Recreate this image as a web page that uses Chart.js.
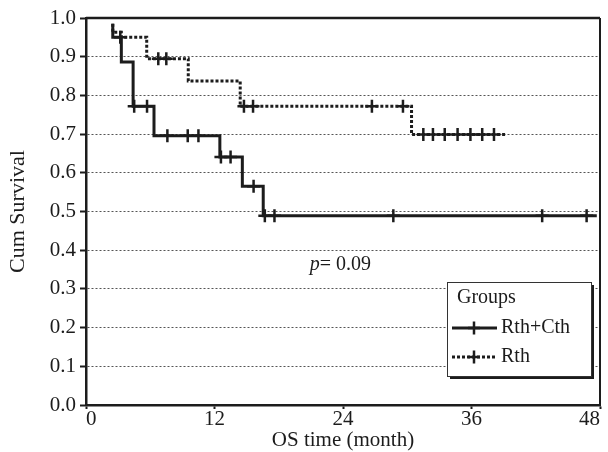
<!DOCTYPE html>
<html lang="en">
<head>
<meta charset="UTF-8">
<title>Cum Survival by group</title>
<script src="https://cdn.jsdelivr.net/npm/chart.js"></script>
<style>
  body { margin: 0; background: #fff; }
  #wrap { position: relative; width: 608px; height: 452px; }
</style>
</head>
<body>
<div id="wrap"><canvas id="km" width="608" height="452"></canvas></div>
<script>
// Rth+Cth: times (month), survival after each point, censored mark (1) or step (0)
const combTimes = [2.5, 2.5, 3.2, 3.3, 4.4, 4.5, 5.7, 6.35, 7.6, 9.5, 10.5, 12.5, 12.6, 13.5, 14.6, 15.65, 16.55, 16.7, 17.6, 28.7, 42.6, 46.75, 47.7];
const combSurv  = [0.985, 0.95, 0.95, 0.886, 0.772, 0.772, 0.772, 0.696, 0.696, 0.696, 0.696, 0.641, 0.641, 0.641, 0.565, 0.565, 0.489, 0.489, 0.489, 0.489, 0.489, 0.489, 0.489];
const combCens  = [0, 0, 1, 0, 0, 1, 1, 0, 1, 1, 1, 0, 1, 1, 0, 1, 0, 1, 1, 1, 1, 1, 0];

// Rth
const rthTimes = [2.5, 2.5, 3.3, 5.67, 6.75, 7.5, 9.55, 14.4, 14.75, 15.6, 26.7, 29.6, 30.4, 31.5, 32.4, 33.5, 34.7, 35.9, 37.0, 38.1, 39.3];
const rthSurv  = [0.985, 0.963, 0.95, 0.895, 0.895, 0.895, 0.837, 0.772, 0.772, 0.772, 0.772, 0.772, 0.699, 0.699, 0.699, 0.699, 0.699, 0.699, 0.699, 0.699, 0.699];
const rthCens  = [0, 0, 0, 0, 1, 1, 0, 0, 1, 1, 1, 1, 0, 1, 1, 1, 1, 1, 1, 1, 0];

const groupNames = ['Rth+Cth', 'Rth'];
const xTicks = [0, 12, 24, 36, 48];
const pText = { x: 20.9, y: 0.362, label: '= 0.09' };

const FONT = "'Liberation Serif', 'Times New Roman', serif";
const INK = '#1c1c1c';

function toPoints(t, s) {
  return t.map((v, i) => ({ x: v, y: s[i] }));
}

// frame, p value and boxed legend
const extras = {
  id: 'extras',
  afterDatasetsDraw(chart) {
    const ctx = chart.ctx;
    const a = chart.chartArea;
    const xs = chart.scales.x, ys = chart.scales.y;
    ctx.save();
    ctx.strokeStyle = INK;
    ctx.lineWidth = 2.5;
    ctx.beginPath();
    ctx.moveTo(a.left, a.top);
    ctx.lineTo(a.right, a.top);
    ctx.stroke();
    ctx.lineWidth = 2;
    ctx.beginPath();
    ctx.moveTo(a.right, a.top);
    ctx.lineTo(a.right, a.bottom);
    ctx.stroke();

    // p value
    const px = xs.getPixelForValue(pText.x), py = ys.getPixelForValue(pText.y);
    ctx.fillStyle = INK;
    ctx.textBaseline = 'middle';
    ctx.textAlign = 'left';
    ctx.font = 'italic 20px ' + FONT;
    ctx.fillText('p', px, py);
    const w = ctx.measureText('p').width;
    ctx.font = '20px ' + FONT;
    ctx.fillText(pText.label, px + w, py);
    ctx.restore();
  },
  afterDraw(chart) {
    const ctx = chart.ctx;
    const a = chart.chartArea;
    const bx = a.right - 153, by = 282, bw = 144, bh = 94;
    ctx.save();
    ctx.fillStyle = INK;
    ctx.fillRect(bx + 3, by + 3, bw, bh);
    ctx.fillStyle = '#fff';
    ctx.fillRect(bx, by, bw, bh);
    ctx.strokeStyle = '#333';
    ctx.lineWidth = 1;
    ctx.strokeRect(bx + 0.5, by + 0.5, bw, bh);

    ctx.fillStyle = INK;
    ctx.font = '20px ' + FONT;
    ctx.textBaseline = 'middle';
    ctx.fillText('Groups', bx + 10, by + 16);

    const rows = [by + 46, by + 75];
    groupNames.forEach((name, i) => {
      const y = rows[i];
      ctx.strokeStyle = INK;
      ctx.lineWidth = 3;
      ctx.setLineDash(i === 1 ? [3, 2] : []);
      ctx.beginPath();
      ctx.moveTo(bx + 5, y);
      ctx.lineTo(bx + 50, y);
      ctx.stroke();
      ctx.setLineDash([]);
      ctx.lineWidth = 2.5;
      ctx.beginPath();
      ctx.moveTo(bx + 27, y - 6.5);
      ctx.lineTo(bx + 27, y + 6.5);
      ctx.moveTo(bx + 21, y);
      ctx.lineTo(bx + 33, y);
      ctx.stroke();
      ctx.fillText(name, bx + 54, y);
    });
    ctx.restore();
  }
};

const ctx = document.getElementById('km').getContext('2d');
new Chart(ctx, {
  type: 'line',
  data: {
    datasets: [
      {
        label: groupNames[0],
        data: toPoints(combTimes, combSurv),
        borderColor: INK,
        borderWidth: 3,
        stepped: 'before',
        pointStyle: 'cross',
        pointRadius: combCens.map(c => c ? 6.5 : 0),
        pointBorderWidth: 2.5,
        pointBorderColor: INK,
        fill: false
      },
      {
        label: groupNames[1],
        data: toPoints(rthTimes, rthSurv),
        borderColor: INK,
        borderWidth: 3,
        borderDash: [3, 2],
        stepped: 'before',
        pointStyle: 'cross',
        pointRadius: rthCens.map(c => c ? 6.5 : 0),
        pointBorderWidth: 2.5,
        pointBorderColor: INK,
        fill: false
      }
    ]
  },
  options: {
    responsive: false,
    animation: false,
    events: [],
    layout: { padding: { top: 18, right: 8, left: 0, bottom: 0 } },
    plugins: { legend: { display: false }, tooltip: { enabled: false } },
    scales: {
      x: {
        type: 'linear',
        min: 0,
        max: 48,
        afterBuildTicks: s => { s.ticks = xTicks.map(v => ({ value: v })); },
        afterFit: s => { s.height = 47; s.paddingLeft = 0; s.paddingRight = 0; },
        grid: { drawOnChartArea: false, drawTicks: true, tickLength: 4, tickWidth: 2, tickColor: INK },
        border: { display: true, color: INK, width: 2.5 },
        ticks: { align: 'inner', autoSkip: false, maxRotation: 0, padding: -2, color: INK, font: { family: FONT, size: 21 } },
        title: { display: true, text: 'OS time (month)', color: INK, padding: { top: 0, bottom: -1 }, font: { family: FONT, size: 21 } }
      },
      y: {
        min: 0,
        max: 1,
        afterFit: s => { s.width = 86; },
        grid: { color: '#555', lineWidth: 1, tickLength: 6, tickWidth: 2, tickColor: INK },
        border: { display: true, color: INK, width: 2.5, dash: [2, 2] },
        ticks: { stepSize: 0.1, autoSkip: false, padding: 4, color: INK, font: { family: FONT, size: 21 }, callback: v => v.toFixed(1) },
        title: { display: true, text: 'Cum Survival', color: INK, padding: { top: 5, bottom: 0 }, font: { family: FONT, size: 22 } }
      }
    }
  },
  plugins: [extras]
});
</script>
</body>
</html>
